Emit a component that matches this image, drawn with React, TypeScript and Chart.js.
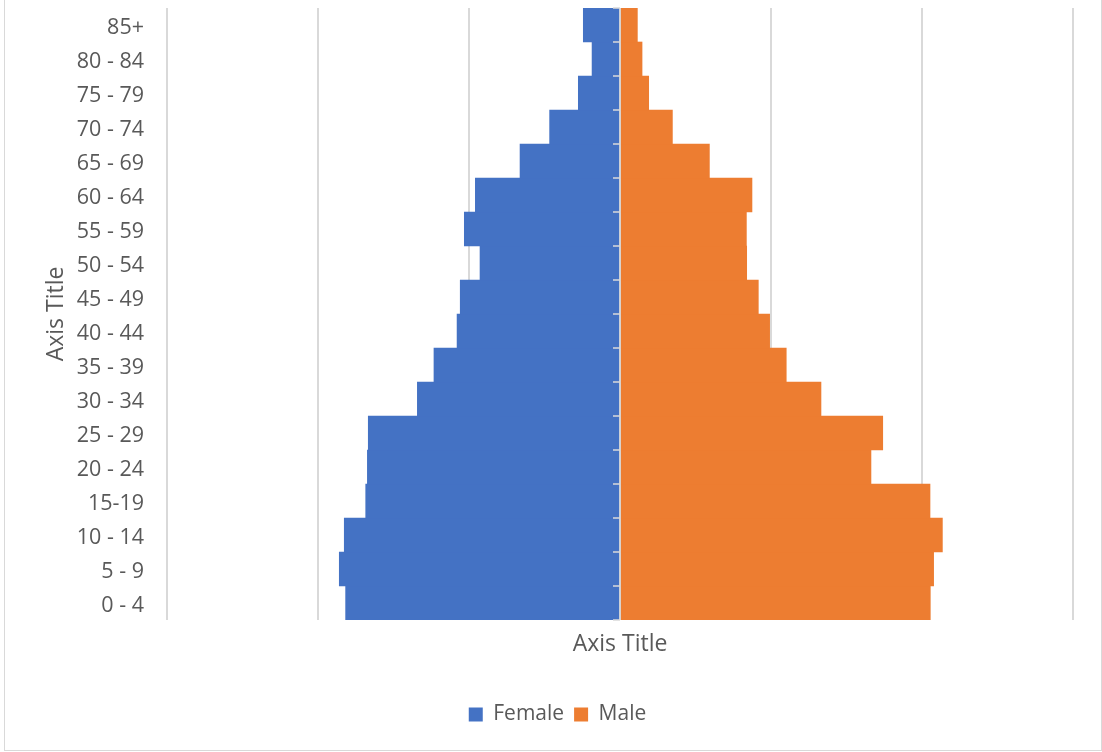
import React, { useEffect, useRef } from 'react';
import { Chart, registerables } from 'chart.js';

Chart.register(...registerables);

const ageGroups = ['0 - 4', '5 - 9', '10 - 14', '15-19', '20 - 24', '25 - 29', '30 - 34', '35 - 39', '40 - 44', '45 - 49', '50 - 54', '55 - 59', '60 - 64', '65 - 69', '70 - 74', '75 - 79', '80 - 84', '85+'];
const femaleValues = [1.817, 1.859, 1.826, 1.684, 1.673, 1.667, 1.342, 1.232, 1.079, 1.058, 0.927, 1.031, 0.958, 0.662, 0.466, 0.276, 0.185, 0.243];
const maleValues = [2.055, 2.077, 2.135, 2.053, 1.662, 1.740, 1.331, 1.101, 0.991, 0.916, 0.839, 0.837, 0.874, 0.592, 0.347, 0.190, 0.146, 0.115];
const xMin = -3;
const xMax = 3;
const xStep = 1;

const FONT = "'Open Sans', sans-serif";
const TEXT = '#595959';
const GRID = '#d9d9d9';

const centerAxisPlugin = {
  id: 'centerAxis',
  afterDatasetsDraw(chart: any) {
    const { ctx, chartArea, scales } = chart;
    const x0 = scales.x.getPixelForValue(0);
    const n = ageGroups.length;
    const step = (chartArea.bottom - chartArea.top) / n;
    ctx.save();
    ctx.strokeStyle = GRID;
    ctx.lineWidth = 1.5;
    ctx.beginPath();
    ctx.moveTo(x0, chartArea.top);
    ctx.lineTo(x0, chartArea.bottom);
    for (let k = 0; k <= n; k++) {
      const y = chartArea.top + k * step;
      ctx.moveTo(x0 - 7, y);
      ctx.lineTo(x0, y);
    }
    ctx.stroke();
    ctx.restore();
  },
  afterDraw(chart: any) {
    const { ctx } = chart;
    ctx.save();
    ctx.strokeStyle = GRID;
    ctx.lineWidth = 1;
    ctx.strokeRect(4.5, -5, 1097, 755.5);
    ctx.restore();
  },
};

export default function App() {
  const canvasRef = useRef<HTMLCanvasElement | null>(null);

  useEffect(() => {
    document.body.style.margin = '0';
    const canvas = canvasRef.current;
    if (!canvas) return;
    const chart = new Chart(canvas, {
      type: 'bar',
      data: {
        labels: ageGroups,
        datasets: [
          {
            label: 'Female',
            data: femaleValues.map((v) => -v),
            backgroundColor: '#4472C4',
            borderWidth: 0,
            barPercentage: 1,
            categoryPercentage: 1,
          },
          {
            label: 'Male',
            data: maleValues,
            backgroundColor: '#ED7D31',
            borderWidth: 0,
            barPercentage: 1,
            categoryPercentage: 1,
          },
        ],
      },
      options: {
        indexAxis: 'y',
        animation: false,
        responsive: false,
        maintainAspectRatio: false,
        layout: { padding: { left: 42, right: 29, top: 8, bottom: 17 } },
        plugins: {
          legend: {
            position: 'bottom',
            labels: {
              boxWidth: 14,
              boxHeight: 14,
              padding: 10,
              color: TEXT,
              font: { family: FONT, size: 21 },
            },
          },
          tooltip: { enabled: false },
        },
        scales: {
          x: {
            type: 'linear',
            min: xMin,
            max: xMax,
            stacked: true,
            ticks: { display: false, stepSize: xStep },
            grid: { color: GRID, lineWidth: 2, drawTicks: false },
            border: { display: false },
            title: {
              display: true,
              text: 'Axis Title',
              color: TEXT,
              font: { family: FONT, size: 23 },
              padding: { top: 0, bottom: 36 },
            },
            afterFit: (s: any) => {
              s.height = 74;
              s.paddingLeft = 0;
              s.paddingRight = 0;
            },
          },
          y: {
            type: 'category',
            reverse: true,
            stacked: true,
            grid: { display: false, drawTicks: false },
            border: { display: false },
            ticks: {
              color: TEXT,
              font: { family: FONT, size: 21.5 },
              padding: 23,
              labelOffset: 2.5,
              autoSkip: false,
            },
            title: {
              display: true,
              text: 'Axis Title',
              color: TEXT,
              font: { family: FONT, size: 23 },
              padding: { top: 1, bottom: 0 },
            },
            afterFit: (s: any) => {
              s.width = 125;
              s.paddingTop = 0;
              s.paddingBottom = 0;
            },
          },
        },
      },
      plugins: [centerAxisPlugin],
    });
    return () => chart.destroy();
  }, []);

  return (
    <div style={{ width: 1102, height: 752, background: '#ffffff' }}>
      <canvas ref={canvasRef} width={1102} height={752} style={{ display: 'block' }} />
    </div>
  );
}
